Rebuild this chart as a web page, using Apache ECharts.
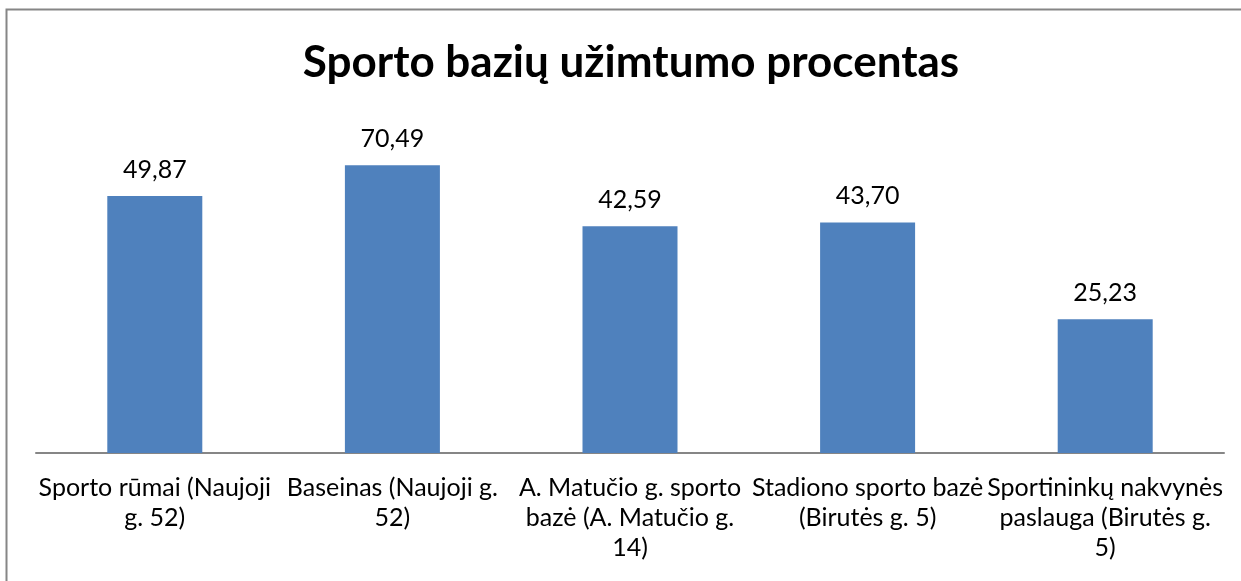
<!DOCTYPE html>
<html>
<head>
<meta charset="utf-8">
<script src="https://cdn.jsdelivr.net/npm/echarts@6/dist/echarts.min.js"></script>
<style>
  html, body { margin: 0; padding: 0; background: #fff; }
  #chart { width: 1241px; height: 581px; }
</style>
</head>
<body>
<div id="chart"></div>
<script>
const categories = [
  'Sporto rūmai (Naujoji\ng. 52)',
  'Baseinas (Naujoji g.\n52)',
  'A. Matučio g. sporto\nbazė (A. Matučio g.\n14)',
  'Stadiono sporto bazė\n(Birutės g. 5)',
  'Sportininkų nakvynės\npaslauga (Birutės g.\n5)'
]
// values printed above the bars
const printedValues = [49.87, 70.49, 42.59, 43.70, 25.23]
// bar lengths as they are drawn in the source (first two don't follow the printed numbers)
const barHeights = [48.6, 54.4, 42.9, 43.6, 25.3]

const font = 'Lato, "Noto Sans", sans-serif'
const chart = echarts.init(document.getElementById('chart'), null, {renderer: 'canvas'})

chart.setOption({
  animation: false,
  backgroundColor: '#fff',
  title: {
    text: 'Sporto bazių užimtumo procentas',
    left: 626,
    top: 36,
    textAlign: 'center',
    textStyle: {fontFamily: font, fontSize: 44, fontWeight: 'bold', color: '#000'}
  },
  graphic: [{
    type: 'rect',
    shape: {x: 6.5, y: 9.5, width: 1300, height: 700},
    style: {fill: 'none', stroke: '#868686', lineWidth: 2},
    silent: true
  }],
  grid: {left: 36, right: 17, top: 30, bottom: 128},
  xAxis: {
    type: 'category',
    data: categories,
    axisLine: {lineStyle: {color: '#868686', width: 2}},
    axisTick: {show: false},
    axisLabel: {
      interval: 0,
      margin: 20,
      fontFamily: font,
      fontSize: 25,
      lineHeight: 30,
      color: '#000'
    }
  },
  yAxis: {
    type: 'value',
    min: 0,
    max: 80,
    show: false,
    splitLine: {show: false}
  },
  series: [{
    type: 'bar',
    data: barHeights,
    barWidth: 95,
    itemStyle: {color: '#4F81BD'},
    label: {
      show: true,
      position: 'top',
      distance: 14,
      fontFamily: font,
      fontSize: 25,
      color: '#000',
      formatter: p => printedValues[p.dataIndex].toFixed(2).replace('.', ',')
    }
  }]
})
</script>
</body>
</html>
